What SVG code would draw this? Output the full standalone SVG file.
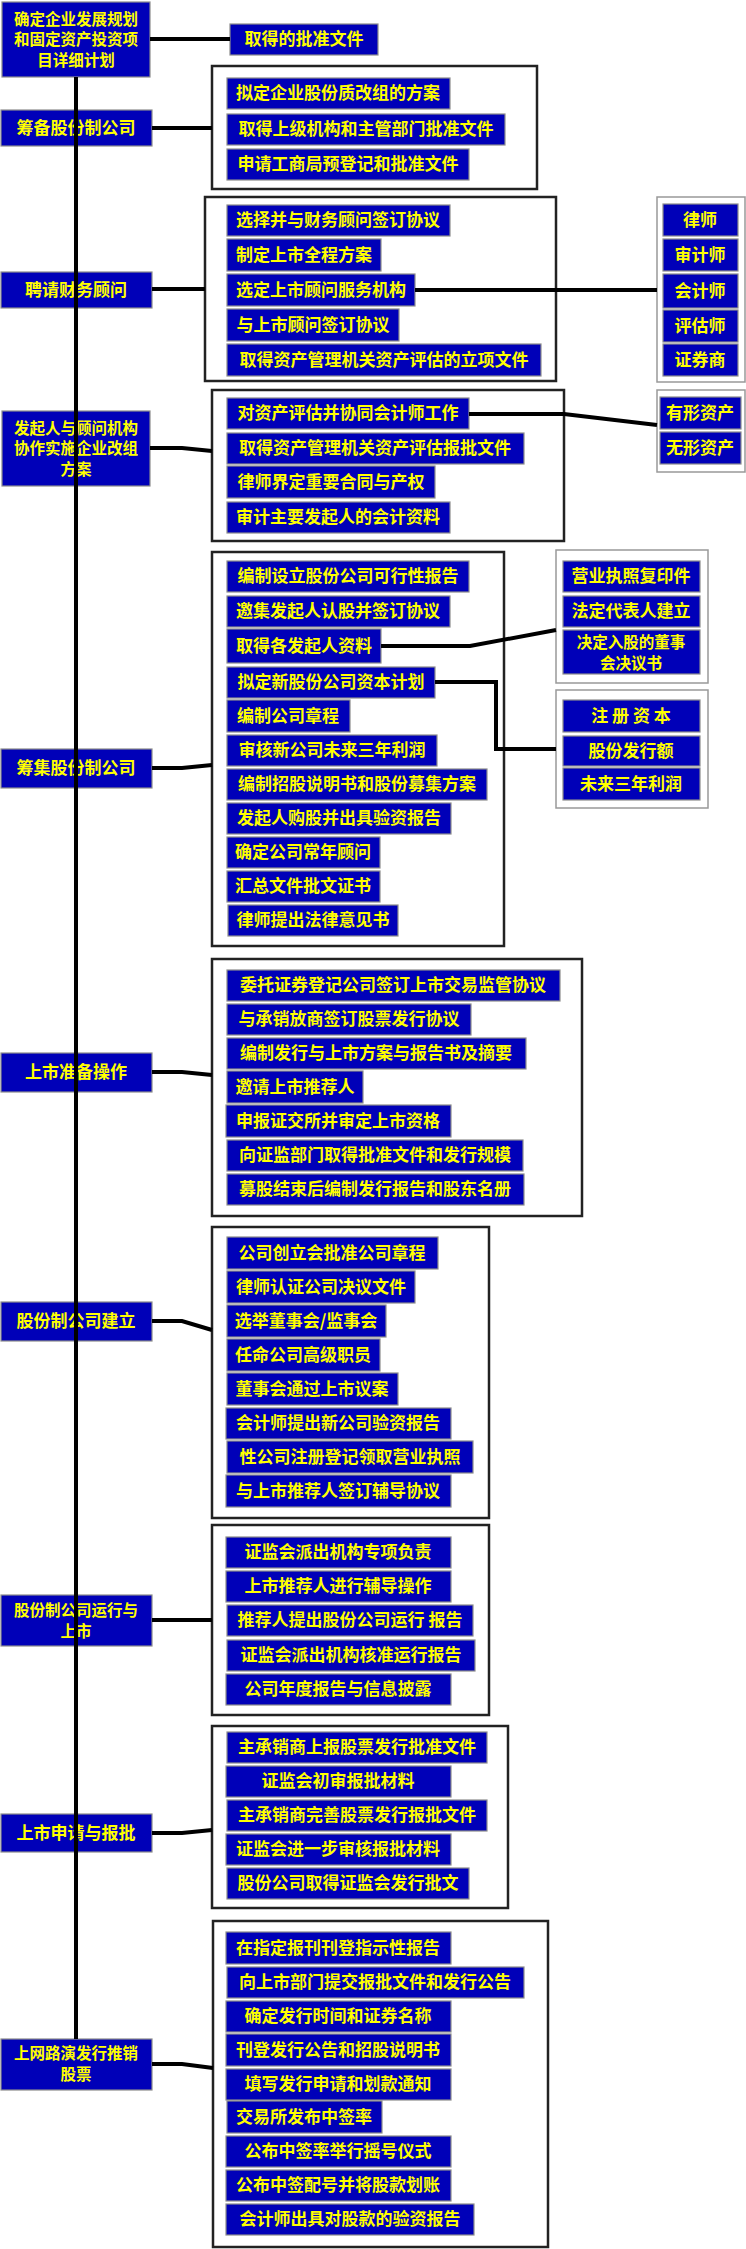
<svg xmlns="http://www.w3.org/2000/svg" width="746" height="2249" viewBox="0 0 746 2249">
<style>
.n rect{fill:#0000b8;stroke:#8c8c8c;stroke-width:1.2}
text{fill:#ffff00;font-family:"Noto Sans CJK SC","Noto Sans",sans-serif;font-weight:bold;font-size:17px;text-anchor:middle}
text.m{font-size:15.5px}
.c{fill:none;stroke:#000;stroke-width:4}
.b{fill:none;stroke:#222;stroke-width:2.5}
.g{fill:none;stroke:#999;stroke-width:1.5}
</style>
<rect width="746" height="2249" fill="#fff"/>
<g id="frames">
<rect class="b" x="212" y="66" width="325" height="123"/>
<rect class="b" x="205" y="197" width="351" height="184"/>
<rect class="g" x="657" y="197" width="88" height="185"/>
<rect class="b" x="212" y="390" width="352" height="151"/>
<rect class="g" x="657" y="390" width="88" height="82"/>
<rect class="b" x="212" y="552" width="292" height="394"/>
<rect class="g" x="556" y="550" width="152" height="133"/>
<rect class="g" x="556" y="690" width="152" height="118"/>
<rect class="b" x="212" y="959" width="370" height="257"/>
<rect class="b" x="212" y="1227" width="277" height="291"/>
<rect class="b" x="212" y="1525" width="277" height="190"/>
<rect class="b" x="212" y="1726" width="296" height="182"/>
<rect class="b" x="213" y="1921" width="335" height="326"/>
</g>
<g class="n">
<g id="n1"><rect x="2" y="2" width="148" height="75"/><text class="m" x="76" y="25">确定企业发展规划</text><text class="m" x="76" y="45">和固定资产投资项</text><text class="m" x="76" y="66">目详细计划</text></g>
<g id="n1a"><rect x="230" y="24" width="148" height="31"/><text x="304" y="45">取得的批准文件</text></g>
<g id="n2"><rect x="1" y="110" width="151" height="36"/><text x="76" y="134">筹备股份制公司</text></g>
<g id="n2a"><rect x="227" y="78" width="223" height="31"/><text x="338" y="99">拟定企业股份质改组的方案</text></g>
<g id="n2b"><rect x="227" y="114" width="278" height="31"/><text x="366" y="135">取得上级机构和主管部门批准文件</text></g>
<g id="n2c"><rect x="227" y="149" width="242" height="31"/><text x="348" y="170">申请工商局预登记和批准文件</text></g>
<g id="n3"><rect x="1" y="272" width="151" height="36"/><text x="76" y="296">聘请财务顾问</text></g>
<g id="n3a"><rect x="227" y="205" width="223" height="31"/><text x="338" y="226">选择并与财务顾问签订协议</text></g>
<g id="n3b"><rect x="227" y="239" width="154" height="32"/><text x="304" y="261">制定上市全程方案</text></g>
<g id="n3c"><rect x="227" y="274" width="188" height="32"/><text x="321" y="296">选定上市顾问服务机构</text></g>
<g id="n3d"><rect x="227" y="309" width="172" height="32"/><text x="313" y="331">与上市顾问签订协议</text></g>
<g id="n3e"><rect x="227" y="344" width="314" height="32"/><text x="384" y="366">取得资产管理机关资产评估的立项文件</text></g>
<g id="r1"><rect x="663" y="204" width="75" height="32"/><text x="700" y="226">律师</text></g>
<g id="r2"><rect x="663" y="239" width="75" height="32"/><text x="700" y="261">审计师</text></g>
<g id="r3"><rect x="663" y="274" width="75" height="34"/><text x="700" y="297">会计师</text></g>
<g id="r4"><rect x="663" y="310" width="75" height="32"/><text x="700" y="332">评估师</text></g>
<g id="r5"><rect x="663" y="344" width="75" height="32"/><text x="700" y="366">证券商</text></g>
<g id="n4"><rect x="2" y="411" width="148" height="75"/><text class="m" x="76" y="434">发起人与顾问机构</text><text class="m" x="76" y="454">协作实施企业改组</text><text class="m" x="76" y="475">方案</text></g>
<g id="n4a"><rect x="227" y="398" width="242" height="31"/><text x="348" y="419">对资产评估并协同会计师工作</text></g>
<g id="n4b"><rect x="227" y="433" width="297" height="31"/><text x="375" y="454">取得资产管理机关资产评估报批文件</text></g>
<g id="n4c"><rect x="227" y="466" width="208" height="32"/><text x="331" y="488">律师界定重要合同与产权</text></g>
<g id="n4d"><rect x="227" y="502" width="223" height="31"/><text x="338" y="523">审计主要发起人的会计资料</text></g>
<g id="r6"><rect x="660" y="397" width="81" height="32"/><text x="700" y="419">有形资产</text></g>
<g id="r7"><rect x="660" y="432" width="81" height="32"/><text x="700" y="454">无形资产</text></g>
<g id="n5"><rect x="1" y="749" width="151" height="39"/><text x="76" y="774">筹集股份制公司</text></g>
<g id="n5a"><rect x="227" y="561" width="242" height="31"/><text x="348" y="582">编制设立股份公司可行性报告</text></g>
<g id="n5b"><rect x="227" y="596" width="223" height="31"/><text x="338" y="617">邀集发起人认股并签订协议</text></g>
<g id="n5c"><rect x="227" y="629" width="154" height="34"/><text x="304" y="652">取得各发起人资料</text></g>
<g id="n5d"><rect x="227" y="667" width="208" height="31"/><text x="331" y="688">拟定新股份公司资本计划</text></g>
<g id="n5e"><rect x="227" y="700" width="123" height="32"/><text x="288" y="722">编制公司章程</text></g>
<g id="n5f"><rect x="227" y="735" width="210" height="31"/><text x="332" y="756">审核新公司未来三年利润</text></g>
<g id="n5g"><rect x="227" y="769" width="260" height="31"/><text x="357" y="790">编制招股说明书和股份募集方案</text></g>
<g id="n5h"><rect x="227" y="803" width="224" height="31"/><text x="339" y="824">发起人购股并出具验资报告</text></g>
<g id="n5i"><rect x="227" y="837" width="153" height="31"/><text x="303" y="858">确定公司常年顾问</text></g>
<g id="n5j"><rect x="227" y="871" width="153" height="31"/><text x="303" y="892">汇总文件批文证书</text></g>
<g id="n5k"><rect x="228" y="905" width="170" height="31"/><text x="313" y="926">律师提出法律意见书</text></g>
<g id="r8"><rect x="563" y="561" width="137" height="31"/><text x="631" y="582">营业执照复印件</text></g>
<g id="r9"><rect x="563" y="596" width="137" height="31"/><text x="631" y="617">法定代表人建立</text></g>
<g id="r10"><rect x="563" y="630" width="137" height="44"/><text class="m" x="631" y="648">决定入股的董事</text><text class="m" x="631" y="669">会决议书</text></g>
<g id="r11"><rect x="563" y="700" width="137" height="32"/><text x="631" y="722">注 册 资 本</text></g>
<g id="r12"><rect x="563" y="736" width="137" height="30"/><text x="631" y="757">股份发行额</text></g>
<g id="r13"><rect x="563" y="768" width="137" height="32"/><text x="631" y="790">未来三年利润</text></g>
<g id="n6"><rect x="1" y="1053" width="151" height="39"/><text x="76" y="1078">上市准备操作</text></g>
<g id="n6a"><rect x="227" y="970" width="333" height="31"/><text x="393" y="991">委托证券登记公司签订上市交易监管协议</text></g>
<g id="n6b"><rect x="227" y="1004" width="244" height="31"/><text x="349" y="1025">与承销放商签订股票发行协议</text></g>
<g id="n6c"><rect x="227" y="1038" width="299" height="31"/><text x="376" y="1059">编制发行与上市方案与报告书及摘要</text></g>
<g id="n6d"><rect x="227" y="1071" width="136" height="32"/><text x="295" y="1093">邀请上市推荐人</text></g>
<g id="n6e"><rect x="226" y="1105" width="225" height="32"/><text x="338" y="1127">申报证交所并审定上市资格</text></g>
<g id="n6f"><rect x="227" y="1140" width="296" height="31"/><text x="375" y="1161">向证监部门取得批准文件和发行规模</text></g>
<g id="n6g"><rect x="227" y="1174" width="297" height="31"/><text x="375" y="1195">募股结束后编制发行报告和股东名册</text></g>
<g id="n7"><rect x="1" y="1302" width="151" height="39"/><text x="76" y="1327">股份制公司建立</text></g>
<g id="n7a"><rect x="227" y="1237" width="211" height="32"/><text x="332" y="1259">公司创立会批准公司章程</text></g>
<g id="n7b"><rect x="227" y="1271" width="188" height="32"/><text x="321" y="1293">律师认证公司决议文件</text></g>
<g id="n7c"><rect x="227" y="1305" width="159" height="32"/><text x="306" y="1327">选举董事会/监事会</text></g>
<g id="n7d"><rect x="227" y="1339" width="153" height="32"/><text x="303" y="1361">任命公司高级职员</text></g>
<g id="n7e"><rect x="227" y="1373" width="171" height="32"/><text x="312" y="1395">董事会通过上市议案</text></g>
<g id="n7f"><rect x="226" y="1408" width="225" height="31"/><text x="338" y="1429">会计师提出新公司验资报告</text></g>
<g id="n7g"><rect x="227" y="1441" width="246" height="32"/><text x="350" y="1463">性公司注册登记领取营业执照</text></g>
<g id="n7h"><rect x="226" y="1475" width="225" height="32"/><text x="338" y="1497">与上市推荐人签订辅导协议</text></g>
<g id="n8"><rect x="1" y="1595" width="151" height="51"/><text class="m" x="76" y="1616">股份制公司运行与</text><text class="m" x="76" y="1637">上市</text></g>
<g id="n8a"><rect x="226" y="1537" width="225" height="31"/><text x="338" y="1558">证监会派出机构专项负责</text></g>
<g id="n8b"><rect x="226" y="1571" width="225" height="31"/><text x="338" y="1592">上市推荐人进行辅导操作</text></g>
<g id="n8c"><rect x="227" y="1605" width="246" height="31"/><text x="350" y="1626">推荐人提出股份公司运行 报告</text></g>
<g id="n8d"><rect x="227" y="1640" width="248" height="31"/><text x="351" y="1661">证监会派出机构核准运行报告</text></g>
<g id="n8e"><rect x="226" y="1674" width="225" height="31"/><text x="338" y="1695">公司年度报告与信息披露</text></g>
<g id="n9"><rect x="1" y="1814" width="151" height="38"/><text x="76" y="1839">上市申请与报批</text></g>
<g id="n9a"><rect x="227" y="1732" width="260" height="31"/><text x="357" y="1753">主承销商上报股票发行批准文件</text></g>
<g id="n9b"><rect x="226" y="1766" width="225" height="31"/><text x="338" y="1787">证监会初审报批材料</text></g>
<g id="n9c"><rect x="227" y="1800" width="260" height="31"/><text x="357" y="1821">主承销商完善股票发行报批文件</text></g>
<g id="n9d"><rect x="226" y="1834" width="225" height="31"/><text x="338" y="1855">证监会进一步审核报批材料</text></g>
<g id="n9e"><rect x="227" y="1868" width="242" height="31"/><text x="348" y="1889">股份公司取得证监会发行批文</text></g>
<g id="n10"><rect x="1" y="2039" width="151" height="51"/><text class="m" x="76" y="2059">上网路演发行推销</text><text class="m" x="76" y="2080">股票</text></g>
<g id="n10a"><rect x="226" y="1932" width="225" height="32"/><text x="338" y="1954">在指定报刊刊登指示性报告</text></g>
<g id="n10b"><rect x="227" y="1967" width="297" height="31"/><text x="375" y="1988">向上市部门提交报批文件和发行公告</text></g>
<g id="n10c"><rect x="226" y="2001" width="225" height="31"/><text x="338" y="2022">确定发行时间和证券名称</text></g>
<g id="n10d"><rect x="226" y="2034" width="225" height="32"/><text x="338" y="2056">刊登发行公告和招股说明书</text></g>
<g id="n10e"><rect x="226" y="2069" width="225" height="31"/><text x="338" y="2090">填写发行申请和划款通知</text></g>
<g id="n10f"><rect x="227" y="2101" width="155" height="32"/><text x="304" y="2123">交易所发布中签率</text></g>
<g id="n10g"><rect x="226" y="2136" width="225" height="31"/><text x="338" y="2157">公布中签率举行摇号仪式</text></g>
<g id="n10h"><rect x="226" y="2170" width="225" height="31"/><text x="338" y="2191">公布中签配号并将股款划账</text></g>
<g id="n10i"><rect x="226" y="2204" width="248" height="31"/><text x="350" y="2225">会计师出具对股款的验资报告</text></g>
</g>
<g id="connectors">
<path class="c" d="M76 77V2039"/>
<path class="c" d="M150 39H230"/>
<path class="c" d="M152 128H212"/>
<path class="c" d="M152 289H205"/>
<path class="c" d="M415 290H657"/>
<path class="c" d="M150 448H182L212 451"/>
<path class="c" d="M469 414H564L657 425"/>
<path class="c" d="M152 768H182L212 765"/>
<path class="c" d="M381 646H470L556 630"/>
<path class="c" d="M435 682H496V749H556"/>
<path class="c" d="M152 1072H182L212 1075"/>
<path class="c" d="M152 1321H182L212 1330"/>
<path class="c" d="M152 1620H212"/>
<path class="c" d="M152 1833H182L212 1830"/>
<path class="c" d="M152 2064H182L213 2068"/>
</g>
</svg>
